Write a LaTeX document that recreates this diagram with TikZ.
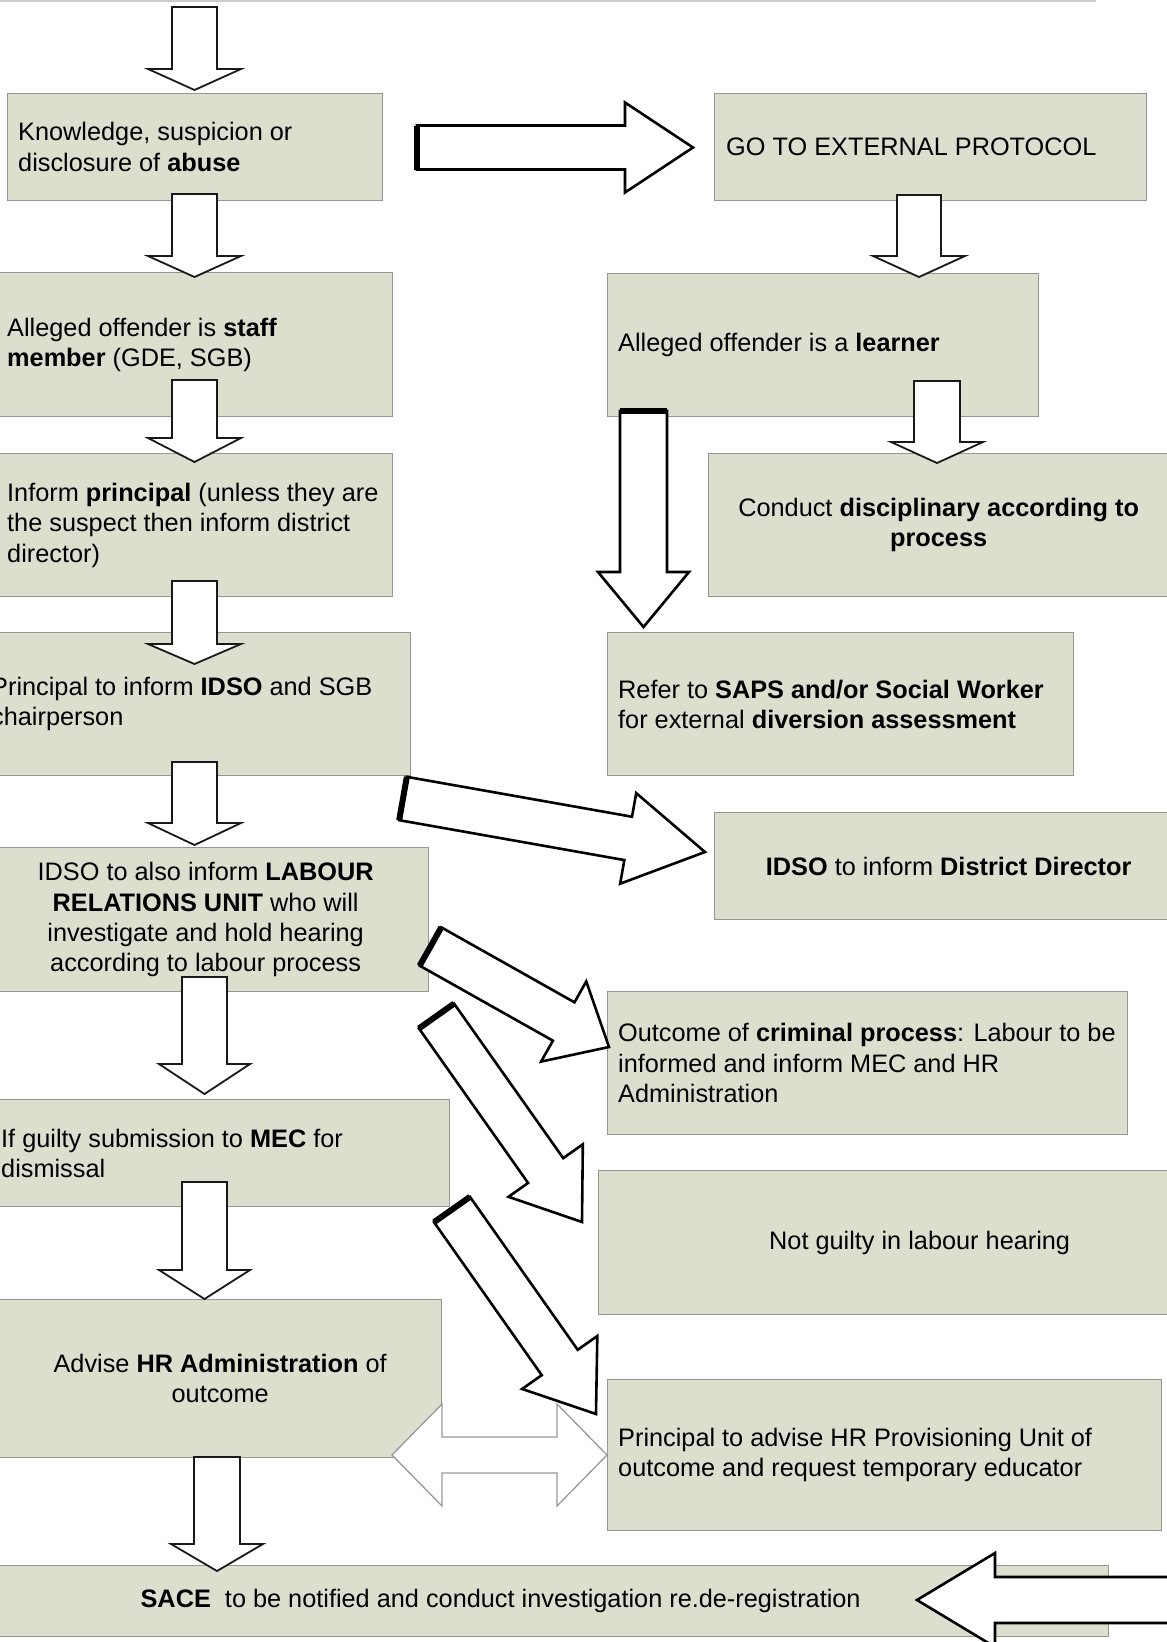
\documentclass[tikz,border=0pt]{standalone}
\usepackage{fontspec}
\setmainfont{Liberation Sans}
\usetikzlibrary{calc}

\definecolor{boxfill}{RGB}{221,223,206}
\definecolor{boxline}{RGB}{150,150,146}

%% block arrow: [style]{tail}{tip}{shaft half width}{head half width}{head length}
\newcommand{\blockarrow}[6][thinarrow]{%
  \pgfpointdiff{\pgfpointanchor{#2}{center}}{\pgfpointanchor{#3}{center}}%
  \pgfgetlastxy{\bax}{\bay}%
  \pgfmathsetmacro{\baang}{atan2(\bay,\bax)}%
  \pgfmathsetmacro{\balen}{veclen(\bax,\bay)}%
  \begin{scope}[shift={(#2)}, rotate=\baang, x=1pt, y=1pt]
    \draw[#1] (0,#4) -- ({\balen-#6},#4) -- ({\balen-#6},#5) -- (\balen,0)
      -- ({\balen-#6},-#5) -- ({\balen-#6},-#4) -- (0,-#4) -- cycle;
    \draw[#1, tailw] (0,#4) -- (0,-#4);
  \end{scope}%
}

\begin{document}
\begin{tikzpicture}[x=1pt, y=-1pt,
    box/.style={draw=boxline, fill=boxfill, line width=1.3pt, anchor=north west, inner sep=0pt},
    txt/.style={inner sep=0pt, font=\fontsize{25.3}{30.4}\selectfont, align=left},
    ctxt/.style={txt, align=center},
    tailw/.style={},
    thinarrow/.style={draw=black!90, fill=white, line width=1.8pt},
    bigarrow/.style={draw=black, fill=white, line width=2.6pt, tailw/.style={line width=6pt}},
    dblarrow/.style={draw=black!40, fill=white, line width=1.3pt}]
  \useasboundingbox (0,0) rectangle (1167,1642);
  \draw[black!20, line width=1.2pt] (0,1) -- (1096,1);

  %% left column
  \node[box, minimum width=375pt, minimum height=107pt] (know) at (7,93) {};
  \node[txt, anchor=west] (know-t) at ([xshift=11pt]know.west) {Knowledge, suspicion or\\disclosure of \textbf{abuse}};
  \node[box, minimum width=396pt, minimum height=144pt] (staff) at (-4,272) {};
  \node[txt, anchor=west] (staff-t) at ([xshift=11pt]staff.west) {Alleged offender is \textbf{staff}\\\textbf{member} (GDE, SGB)};
  \node[box, minimum width=396pt, minimum height=143pt] (inform) at (-4,453) {};
  \node[txt, anchor=west] (inform-t) at ([xshift=11pt]inform.west) {Inform \textbf{principal} (unless they are\\the suspect then inform district\\director)};
  \node[box, minimum width=430pt, minimum height=143pt] (idso) at (-20,632) {};
  \node[txt, anchor=west] (idso-t) at ([xshift=11pt]idso.west) {Principal to inform \textbf{IDSO} and SGB\\chairperson};
  \node[box, minimum width=446pt, minimum height=144pt] (labour) at (-18,847) {};
  \node[ctxt] (labour-t) at (labour.center) {IDSO to also inform \textbf{LABOUR}\\\textbf{RELATIONS UNIT} who will\\investigate and hold hearing\\according to labour process};
  \node[box, minimum width=459pt, minimum height=107pt] (guilty) at (-10,1099) {};
  \node[txt, anchor=west] (guilty-t) at ([xshift=11pt]guilty.west) {If guilty submission to \textbf{MEC} for\\dismissal};
  \node[box, minimum width=443pt, minimum height=158pt] (hradv) at (-2,1299) {};
  \node[ctxt] (hradv-t) at (hradv.center) {Advise \textbf{HR Administration} of\\outcome};
  \node[box, minimum width=1216pt, minimum height=71pt] (sace) at (-108,1565) {};
  \node[ctxt] (sace-t) at (sace.center) {\textbf{SACE}\ \ to be notified and conduct investigation re.de-registration};

  %% right column
  \node[box, minimum width=432pt, minimum height=107pt] (ext) at (714,93) {};
  \node[txt, anchor=west] (ext-t) at ([xshift=12pt]ext.west) {GO TO EXTERNAL PROTOCOL};
  \node[box, minimum width=431pt, minimum height=143pt] (learner) at (607,273) {};
  \node[txt, anchor=west] (learner-t) at ([xshift=11pt]learner.west) {Alleged offender is a \textbf{learner}};
  \node[box, minimum width=460pt, minimum height=143pt] (disc) at (708,453) {};
  \node[ctxt] (disc-t) at (disc.center) {Conduct \textbf{disciplinary according to}\\\textbf{process}};
  \node[box, minimum width=466pt, minimum height=143pt] (saps) at (607,632) {};
  \node[txt, anchor=west] (saps-t) at ([xshift=11pt]saps.west) {Refer to \textbf{SAPS and/or Social Worker}\\for external \textbf{diversion assessment}};
  \node[box, minimum width=468pt, minimum height=107pt] (dist) at (714,812) {};
  \node[ctxt] (dist-t) at (dist.center) {\textbf{IDSO} to inform \textbf{District Director}};
  \node[box, minimum width=520pt, minimum height=143pt] (crim) at (607,991) {};
  \node[txt, anchor=west] (crim-t) at ([xshift=11pt]crim.west) {Outcome of \textbf{criminal process}: Labour to be\\informed and inform MEC and HR\\Administration};
  \node[box, minimum width=642pt, minimum height=144pt] (notg) at (598,1170) {};
  \node[ctxt] (notg-t) at (notg.center) {Not guilty in labour hearing};
  \node[box, minimum width=554pt, minimum height=151pt] (prov) at (607,1379) {};
  \node[txt, anchor=west] (prov-t) at ([xshift=11pt]prov.west) {Principal to advise HR Provisioning Unit of\\outcome and request temporary educator};

  %% arrow ends
  \coordinate (top-s) at (194.5,7);      \coordinate (top-e) at (194.5,90);
  \coordinate (know-s) at (194.5,194);   \coordinate (know-e) at (194.5,277);
  \coordinate (staff-s) at (194.5,380);  \coordinate (staff-e) at (194.5,462);
  \coordinate (inform-s) at (194.5,581); \coordinate (inform-e) at (194.5,664);
  \coordinate (idso-s) at (194.5,762);   \coordinate (idso-e) at (194.5,845);
  \coordinate (labour-s) at (204.5,977); \coordinate (labour-e) at (204.5,1094);
  \coordinate (guilty-s) at (204.5,1182); \coordinate (guilty-e) at (204.5,1299);
  \coordinate (hradv-s) at (217,1457);   \coordinate (hradv-e) at (217,1571);
  \coordinate (ext-s) at (417,147.5);    \coordinate (ext-e) at (693,147.5);
  \coordinate (prot-s) at (919,195);     \coordinate (prot-e) at (919,277);
  \coordinate (learn-s) at (937,381);    \coordinate (learn-e) at (937,463);
  \coordinate (saps-s) at (643.5,411);   \coordinate (saps-e) at (643.5,627);
  \coordinate (dist-s) at (403,798.5);   \coordinate (dist-e) at (705,852);
  \coordinate (crim-s) at (430.5,946.5); \coordinate (crim-e) at (609,1047);
  \coordinate (notg-s) at (436.5,1016);  \coordinate (notg-e) at (582,1222);
  \coordinate (prov-s) at (452,1209.5);  \coordinate (prov-e) at (596,1414);
  \coordinate (sace-s) at (1200,1600);   \coordinate (sace-e) at (917,1600);
  \coordinate (hrl) at (392,1455);       \coordinate (hrr) at (607,1455);

  %% arrows
  \blockarrow{top-s}{top-e}{22.5}{46.5}{21}
  \blockarrow{know-s}{know-e}{22.5}{46.5}{21}
  \blockarrow{staff-s}{staff-e}{22.5}{46.5}{24}
  \blockarrow{inform-s}{inform-e}{22.5}{46.5}{20}
  \blockarrow{idso-s}{idso-e}{22.5}{46.5}{22}
  \blockarrow{labour-s}{labour-e}{22.5}{45.5}{30}
  \blockarrow{guilty-s}{guilty-e}{22.5}{45.5}{29}
  \blockarrow{hradv-s}{hradv-e}{23}{46}{27}
  \blockarrow[bigarrow]{ext-s}{ext-e}{22}{45}{68}
  \blockarrow{prot-s}{prot-e}{22}{46}{21}
  \blockarrow{learn-s}{learn-e}{23}{46}{21}
  \blockarrow[bigarrow]{saps-s}{saps-e}{23.5}{45.5}{55}
  \blockarrow[bigarrow]{dist-s}{dist-e}{22}{46}{78}
  \blockarrow[bigarrow]{crim-s}{crim-e}{22}{46}{52}
  \blockarrow[bigarrow]{notg-s}{notg-e}{21.5}{45.5}{63}
  \draw[dblarrow] (hrl) -- ++(50,-51) -- ++(0,33) -- ($(hrr)+(-50,-18)$) -- ++(0,-33) -- (hrr)
    -- ++(-50,51) -- ++(0,-33) -- ($(hrl)+(50,18)$) -- ++(0,33) -- cycle;
  \blockarrow[bigarrow]{prov-s}{prov-e}{22}{46}{63}
  \blockarrow[bigarrow]{sace-s}{sace-e}{23}{47}{78}
\end{tikzpicture}
\end{document}
